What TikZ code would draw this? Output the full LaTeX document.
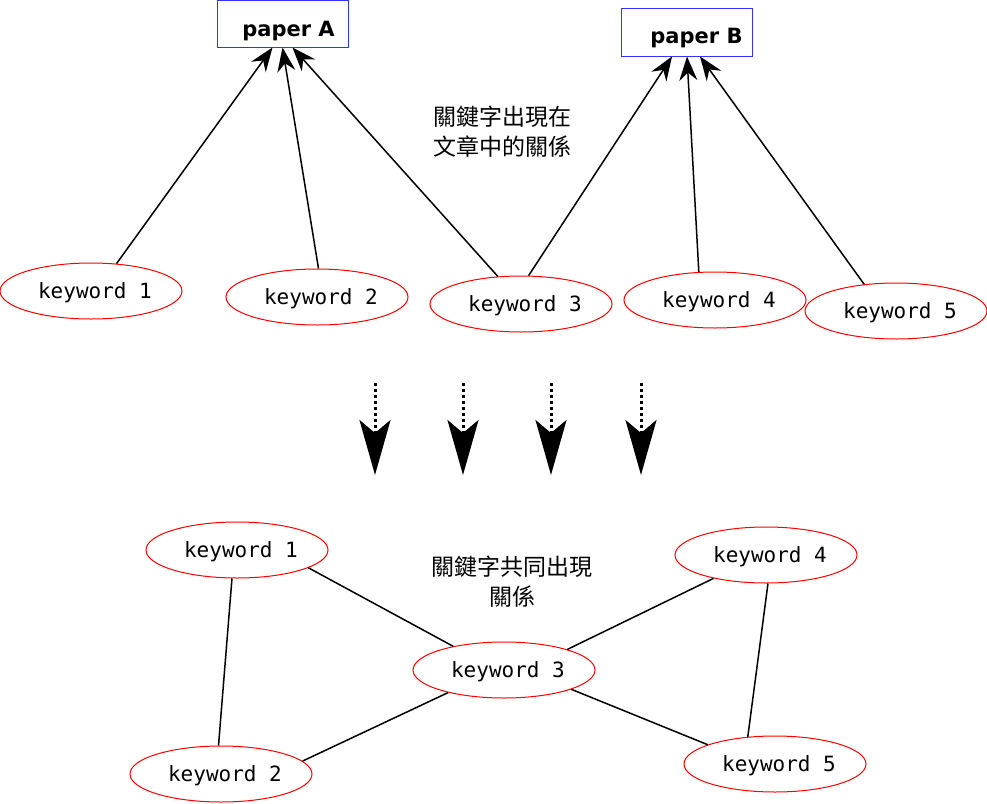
\documentclass[tikz,border=0pt]{standalone}
\usepackage{fontspec}
\setmonofont{DejaVu Sans Mono}
\setsansfont{DejaVu Sans}
\newfontfamily\cjk{Noto Sans CJK TC}
\usetikzlibrary{shapes,arrows.meta}

\begin{document}
\begin{tikzpicture}[x=0.5pt,y=-0.5pt,>={Stealth[length=12pt,width=9pt,inset=4pt]}]
\tikzstyle{keyword} = [draw=red, ellipse, line width=0.5pt,
    minimum width=91pt, minimum height=28pt, inner sep=0pt, text depth=0pt,
    execute at begin node=\hspace*{4pt},
    font=\ttfamily\fontsize{10.5}{12}\selectfont]
\tikzstyle{paper} = [draw=blue!80, rectangle, line width=0.5pt,
    minimum width=65.5pt, inner sep=0pt,
    font=\sffamily\bfseries\fontsize{10.5}{12}\selectfont]
\tikzstyle{note} = [align=center, font=\cjk\fontsize{11.5}{15}\selectfont]
\tikzstyle{link} = [line width=0.75pt]
\tikzstyle{flow} = [line width=1.5pt, dash pattern=on 1.5pt off 1.5pt,
    -{Stealth[length=27.5pt,width=15.5pt,inset=6.5pt]}]
    \useasboundingbox (0,0) rectangle (987,804);

    % We start by placing the papers and the keywords
    \node [paper, text height=18pt, text depth=5.5pt] (paperA) at (282.5,23.5) {\hspace*{6pt}paper A};
    \node [paper, text height=17.5pt, text depth=6.5pt] (paperB) at (687,32) {\hspace*{9.5pt}paper B};
    \node [keyword] (key1) at (91,291) {keyword 1};
    \node [keyword] (key2) at (317,297) {keyword 2};
    \node [keyword] (key3) at (521,304) {keyword 3};
    \node [keyword] (key4) at (715,300) {keyword 4};
    \node [keyword] (key5) at (896,311) {keyword 5};
    \node [note] (relA) at (502,132) {關鍵字出現在\\文章中的關係};

    % keywords point to the paper they appear in
    \draw [->, link] (key1.47) -- ([xshift=-5pt]paperA.south);
    \draw [->, link] (key2.87) -- (paperA.south);
    \draw [->, link] (key3.130) -- ([xshift=5pt]paperA.south);
    \draw [->, link] (key3.75) -- ([xshift=-7.5pt]paperB.south);
    \draw [->, link] (key4.120) -- (paperB.south);
    \draw [->, link] (key5.140) -- ([xshift=6.5pt]paperB.south);

    % the dotted arrows down to the second graph
    \foreach \x [count=\i] in {375,463,551,641} {
        \coordinate (top\i) at (\x,383);
        \coordinate (bot\i) at (\x,475);
        \draw [flow] (top\i) -- (bot\i);
    }

    % The co-occurrence graph
    \node [keyword] (co1) at (237,550) {keyword 1};
    \node [keyword] (co2) at (221,774) {keyword 2};
    \node [keyword] (co3) at (504,670) {keyword 3};
    \node [keyword] (co4) at (766,555) {keyword 4};
    \node [keyword] (co5) at (775,764) {keyword 5};
    \node [note] (relB) at (512,582) {關鍵字共同出現\\關係};

    \draw [link] (co1.-100) -- (co2.95);
    \draw [link] (co1.-14) -- (co3.155);
    \draw [link] (co3.202) -- (co2.9);
    \draw [link] (co3.18) -- (co4.204);
    \draw [link] (co4.-86) -- (co5.135);
    \draw [link] (co3.-16) -- (co5.164);
\end{tikzpicture}
\end{document}
